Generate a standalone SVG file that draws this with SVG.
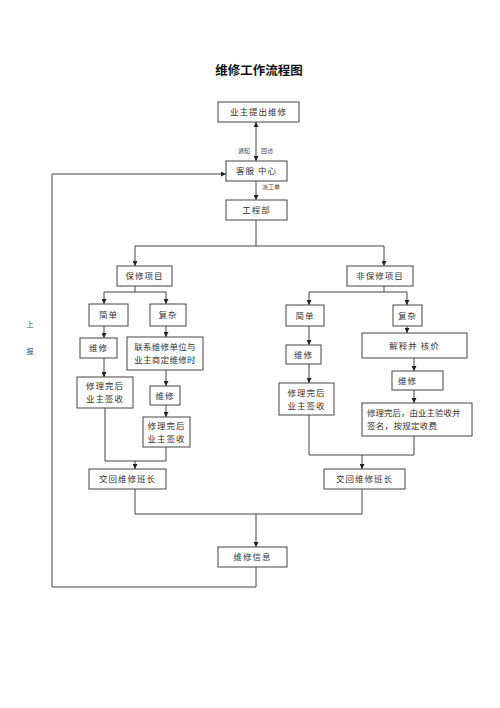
<svg xmlns="http://www.w3.org/2000/svg" width="500" height="708" viewBox="0 0 500 708">
<defs>
<marker id="ah" viewBox="0 0 10 10" refX="10" refY="5" markerWidth="5" markerHeight="5" markerUnits="userSpaceOnUse" orient="auto-start-reverse"><path d="M0,0 L10,5 L0,10 z" fill="#222"/></marker>
<style>
.box{fill:#fff;stroke:#444;stroke-width:1}
.t{font-family:"Liberation Serif","Noto Sans CJK SC",serif;font-size:8.5px;fill:#333;text-anchor:middle;dominant-baseline:central;letter-spacing:1px}
.s{font-family:"Liberation Serif","Noto Sans CJK SC",serif;font-size:6px;fill:#444;text-anchor:middle;dominant-baseline:central}
.ln{fill:none;stroke:#444;stroke-width:1}
.ar{fill:none;stroke:#444;stroke-width:1;marker-end:url(#ah)}
</style>
</defs>
<rect width="500" height="708" fill="#fff"/>
<text x="259" y="71" style="font-family:'Liberation Sans','Noto Sans CJK SC',sans-serif;font-size:12.5px;font-weight:bold;fill:#111;text-anchor:middle;dominant-baseline:central">维修工作流程图</text>

<g id="connectors">
<line class="ar" x1="256" y1="122" x2="256" y2="161" style="marker-start:url(#ah)"/>
<line class="ar" x1="256" y1="181" x2="256" y2="200"/>
<polyline class="ln" points="256,220 256,246"/>
<polyline class="ln" points="135,246 384,246"/>
<polyline class="ar" points="135,246 135,266"/>
<polyline class="ar" points="384,246 384,266"/>
<polyline class="ln" points="135,286 135,292"/>
<polyline class="ln" points="104,292 166,292"/>
<polyline class="ar" points="104,292 104,304"/>
<polyline class="ar" points="166,292 166,304"/>
<polyline class="ar" points="104,326 104,338"/>
<polyline class="ar" points="166,326 166,337"/>
<polyline class="ar" points="104,358 104,377"/>
<polyline class="ar" points="166,370 166,386"/>
<polyline class="ar" points="166,405 166,417"/>
<polyline class="ln" points="105,408 105,461 166,461 166,447"/>
<polyline class="ar" points="135,461 135,469"/>
<polyline class="ln" points="384,286 384,292"/>
<polyline class="ln" points="309,292 407,292"/>
<polyline class="ar" points="309,292 309,305"/>
<polyline class="ar" points="407,292 407,305"/>
<polyline class="ar" points="309,326 309,345"/>
<polyline class="ar" points="407,326 407,333"/>
<polyline class="ar" points="309,364 309,383"/>
<polyline class="ar" points="414,358 414,371"/>
<polyline class="ar" points="414,390 414,403"/>
<polyline class="ln" points="309,415 309,455 414,455 414,436"/>
<polyline class="ar" points="362,455 362,469"/>
<polyline class="ln" points="135,489 135,514 362,514 362,489"/>
<polyline class="ar" points="256,514 256,547"/>
<polyline class="ar" points="256,567 256,587 52,587 52,174 226,174"/>
</g>

<text class="s" x="244" y="151">通知</text>
<text class="s" x="267" y="151">回访</text>
<text class="s" x="271" y="187">派工单</text>
<text class="s" x="30" y="325" style="font-size:7px">上</text>
<text class="s" x="30" y="352" style="font-size:7px">报</text>

<g id="n1"><rect class="box" x="218" y="102" width="81" height="20"/><text class="t" x="258.5" y="112">业主提出维修</text></g>
<g id="n2"><rect class="box" x="226" y="161" width="61" height="20"/><text class="t" x="256.5" y="171">客服 中心</text></g>
<g id="n3"><rect class="box" x="226" y="200" width="61" height="20"/><text class="t" x="256.5" y="210">工程部</text></g>
<g id="n4"><rect class="box" x="117" y="266" width="55" height="20"/><text class="t" x="144.5" y="276">保修项目</text></g>
<g id="n5"><rect class="box" x="347" y="266" width="66" height="20"/><text class="t" x="380" y="276">非保修项目</text></g>
<g id="n6"><rect class="box" x="89" y="304" width="39" height="22"/><text class="t" x="108.5" y="315">简单</text></g>
<g id="n7"><rect class="box" x="150" y="304" width="36" height="22"/><text class="t" x="168" y="315">复杂</text></g>
<g id="n8"><rect class="box" x="80" y="338" width="37" height="20"/><text class="t" x="98.5" y="348">维修</text></g>
<g id="n9"><rect class="box" x="127" y="337" width="76" height="33"/><text class="t" x="165" y="347" style="letter-spacing:0.3px">联系维修单位与</text><text class="t" x="165" y="360" style="letter-spacing:0.3px">业主商定维修时</text></g>
<g id="n10"><rect class="box" x="77" y="377" width="56" height="31"/><text class="t" x="105" y="386">修理完后</text><text class="t" x="105" y="399">业主签收</text></g>
<g id="n11"><rect class="box" x="150" y="386" width="30" height="19"/><text class="t" x="165" y="395.5">维修</text></g>
<g id="n12"><rect class="box" x="143" y="417" width="47" height="30"/><text class="t" x="166.5" y="426">修理完后</text><text class="t" x="166.5" y="439">业主签收</text></g>
<g id="n13"><rect class="box" x="89" y="469" width="77" height="20"/><text class="t" x="127.5" y="479">交回维修班长</text></g>
<g id="n14"><rect class="box" x="286" y="305" width="38" height="21"/><text class="t" x="305" y="315.5">简单</text></g>
<g id="n15"><rect class="box" x="393" y="305" width="29" height="21"/><text class="t" x="407.5" y="315.5">复杂</text></g>
<g id="n16"><rect class="box" x="286" y="345" width="35" height="19"/><text class="t" x="303.5" y="354.5">维修</text></g>
<g id="n17"><rect class="box" x="362" y="333" width="105" height="25"/><text class="t" x="414.5" y="345.5">解释并 核价</text></g>
<g id="n18"><rect class="box" x="279" y="383" width="55" height="32"/><text class="t" x="306.5" y="393">修理完后</text><text class="t" x="306.5" y="406">业主签收</text></g>
<g id="n19"><rect class="box" x="392" y="371" width="51" height="19"/><text class="t" x="398" y="380.5" style="text-anchor:start">维修</text></g>
<g id="n20"><rect class="box" x="362" y="403" width="110" height="33"/><text class="t" x="367" y="413" style="text-anchor:start;letter-spacing:0">修理完后，由业主验收并</text><text class="t" x="367" y="426" style="text-anchor:start;letter-spacing:0.3px">签名，按规定收费</text></g>
<g id="n21"><rect class="box" x="324" y="469" width="81" height="20"/><text class="t" x="364.5" y="479">交回维修班长</text></g>
<g id="n22"><rect class="box" x="218" y="547" width="69" height="20"/><text class="t" x="252.5" y="557">维修信息</text></g>
</svg>
